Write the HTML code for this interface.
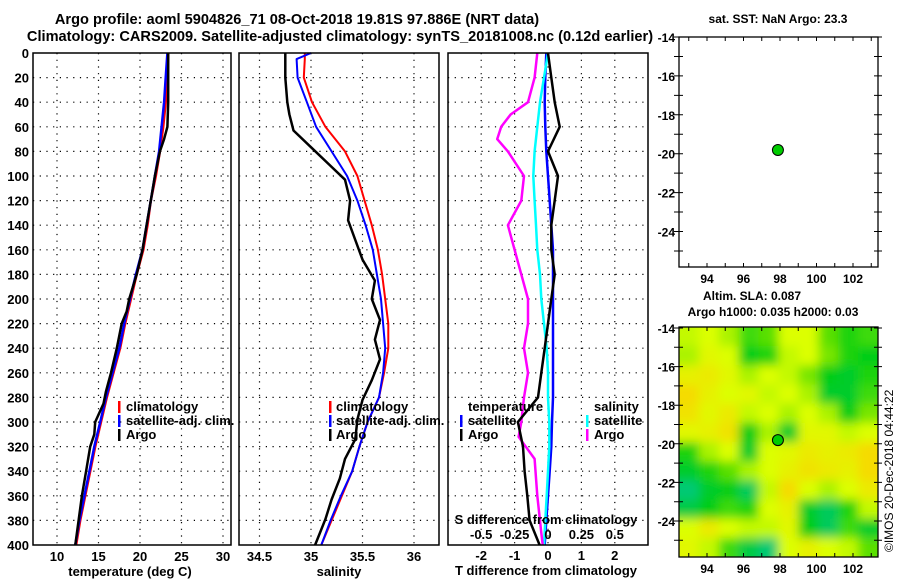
<!DOCTYPE html>
<html><head><meta charset="utf-8"><style>
body{margin:0;background:#fff}
svg{display:block;font-family:"Liberation Sans",sans-serif;font-weight:bold}
text{font-size:13px;fill:#000}
</style></head><body>
<svg id="s" width="900" height="580" viewBox="0 0 900 580">
<text x="297" y="24" text-anchor="middle" style="font-size:14.6px">Argo profile: aoml 5904826_71 08-Oct-2018 19.81S 97.886E (NRT data)</text>
<text x="340" y="41" text-anchor="middle" style="font-size:14.6px">Climatology: CARS2009. Satellite-adjusted climatology: synTS_20181008.nc (0.12d earlier)</text>
<text transform="translate(893,552) rotate(-90)" style="font-size:12px;font-weight:normal">©IMOS 20-Dec-2018 04:44:22</text>
<g id="g"></g>
</svg>
<script>
const depths=[0,20,40,60,80,100,120,140,160,180,200,220,240,260,280,300,320,340,360,380,400];
const tClim=[23.4,23.3,23.1,22.8,22.4,21.9,21.3,20.9,20.4,19.6,18.9,18.2,17.6,16.8,16.0,15.3,14.6,14.0,13.4,12.8,12.3];
const tSat=[23.3,23.1,22.9,22.6,22.3,21.8,21.3,20.8,20.3,19.5,18.8,18.1,17.5,16.7,15.9,15.2,14.5,13.9,13.3,12.7,12.2];
const tArgoDepths=[0,20,40,60,70,80,100,120,140,160,180,200,210,220,240,260,275,285,300,310,320,340,360,380,400];
const tArgo=[23.4,23.4,23.4,23.3,22.9,22.4,21.8,21.3,20.8,20.3,19.6,18.7,18.4,17.8,17.2,16.5,15.9,15.6,14.6,14.5,14.0,13.5,13.0,12.6,12.2];
const sDepthsClim=[0,5,20,40,60,80,100,120,140,160,180,200,220,240,260,280,300,320,340,360,380,400];
const sClim=[34.94,34.94,34.93,35.01,35.14,35.33,35.45,35.52,35.59,35.65,35.69,35.72,35.75,35.75,35.71,35.66,35.55,35.47,35.4,35.3,35.2,35.1];
const sSat=[35.0,34.86,34.87,34.96,35.05,35.2,35.35,35.45,35.53,35.6,35.64,35.68,35.7,35.72,35.7,35.66,35.55,35.47,35.4,35.29,35.19,35.1];
const sArgoDepths=[0,20,40,50,63,79,91,103,120,136,152,168,185,200,217,233,249,266,282,298,314,330,346,363,379,400];
const sArgo=[34.75,34.75,34.77,34.79,34.83,35.03,35.18,35.33,35.38,35.36,35.43,35.5,35.62,35.59,35.67,35.62,35.67,35.59,35.5,35.45,35.43,35.33,35.28,35.2,35.14,35.04];
const dDepths=[0,20,40,60,80,100,120,140,160,180,200,220,240,260,280,300,320,340,360,380,400];
const dtArgo=[0.0,0.1,0.2,0.35,0.0,0.3,0.2,0.1,0.1,0.2,0.1,0.0,-0.1,-0.2,-0.3,-0.9,-0.75,-0.7,-0.62,-0.55,-0.25];
const dtSat=[-0.05,-0.08,-0.1,-0.08,-0.05,0.0,0.05,0.1,0.15,0.15,0.15,0.15,0.15,0.15,0.15,0.12,0.1,0.05,0.0,-0.05,-0.1];
const dsSat=[0.0,-0.03,-0.06,-0.08,-0.1,-0.11,-0.1,-0.09,-0.08,-0.06,-0.05,-0.03,-0.01,0.0,0.0,0.01,0.01,0.0,-0.01,-0.02,-0.03];
const dsArgoDepths=[0,20,40,50,60,70,80,100,120,140,160,180,200,220,240,260,280,300,312,330,360,390,400];
const dsArgo=[-0.08,-0.1,-0.15,-0.28,-0.35,-0.38,-0.3,-0.18,-0.2,-0.3,-0.25,-0.2,-0.15,-0.15,-0.18,-0.15,-0.18,-0.2,-0.22,-0.1,-0.08,-0.05,-0.04];
const depthTicks=[0,20,40,60,80,100,120,140,160,180,200,220,240,260,280,300,320,340,360,380,400];
const tTicks=[10,15,20,25,30];
const sTicks=[34.5,35,35.5,36];
const dtTicks=[-2,-1,0,1,2];
const dsTicks=[-0.5,-0.25,0,0.25,0.5];
const dsTickLabels=["-0.5","-0.25","0","0.25","0.5"];
const lonTicks=[94,96,98,100,102];
const latTicks=[-14,-16,-18,-20,-22,-24];
const argoLon=97.886, argoLat=-19.81;
const sla=[
[0.2,0.3,0.1,-0.3,-0.2,0.3,0.3,-0.2,-0.4,-0.3],
[0.1,0.4,0.3,-0.5,-0.4,0.2,0.3,-0.1,-0.4,-0.5],
[0.5,0.6,0.4,0.1,0.3,0.2,-0.1,-0.5,-0.6,-0.4],
[0.8,0.5,0.3,0.4,0.2,0.3,0.1,-0.6,-0.6,-0.3],
[0.7,0.4,0.6,0.2,0.3,0.1,0.3,0.1,-0.5,-0.1],
[0.4,0.5,0.7,-0.5,0.1,-0.6,0.4,0.4,0.2,0.3],
[-0.4,0.1,0.3,-0.6,0.3,0.4,0.6,0.5,0.6,0.8],
[-0.6,-0.4,-0.2,0.1,0.3,0.5,0.7,0.6,0.5,0.8],
[-0.9,-0.6,-0.5,-0.8,0.2,0.8,0.3,0.1,0.3,0.6],
[-0.7,-0.5,-0.3,-0.4,0.3,0.5,-0.6,-0.8,-0.4,0.2],
[0.3,0.6,0.3,0.2,0.2,0.4,-0.5,-0.8,-0.3,-0.6],
[0.4,0.2,-0.3,-0.7,-0.9,0.3,0.5,0.3,0.2,-0.2]];

const NS="http://www.w3.org/2000/svg", G=document.getElementById('g');
function el(t,a,p){const e=document.createElementNS(NS,t);for(const k in a)e.setAttribute(k,a[k]);(p||G).appendChild(e);return e;}
const Y0=53,Y1=545;
const yD=d=>Y0+d*(Y1-Y0)/400;
const xT=t=>57+(t-10)*8.3;
const xS=s=>311+(s-35)*103;
const xDT=v=>548+v*33.4;
const xDS=v=>548+v*133.6;
const panels=[[33,231],[239,439],[448,648]];

function grid(x0,x1,xs){
  let d='';
  depthTicks.forEach(t=>{if(t>0&&t<400)d+=`M${x0},${yD(t)}H${x1}`;});
  xs.forEach(x=>{d+=`M${x},${Y0}V${Y1}`;});
  const g=el('path',{d,stroke:'#000','stroke-width':1.2,'stroke-dasharray':'1.2 5.5',fill:'none'});
  
  
}
function line(xs,ys,fx,color,w,name){
  let d='';xs.forEach((v,i)=>{d+=(i?'L':'M')+fx(v).toFixed(1)+','+yD(ys[i]).toFixed(1);});
  const p=el('path',{d,stroke:color,'stroke-width':w,fill:'none','stroke-linejoin':'round'});
  
  
}
function txt(x,y,s,anchor,size,name){
  const t=el('text',{x,y,'text-anchor':anchor||'start'});if(size)t.style.fontSize=size+'px';t.textContent=s;
  
  
  return t;
}
function mark(x,y,color){
  const r=el('rect',{x,y:y-10,width:2.5,height:12,fill:color});
  
  
}
grid(33,231,tTicks.map(xT));
grid(239,439,sTicks.map(xS));
grid(448,648,dtTicks.map(xDT));
depthTicks.forEach(t=>txt(29,yD(t)+5,String(t),'end',13,'depth-tick-label'));
line(tClim,depths,xT,'#f00',2.5,'temp-climatology-line');
line(tSat,depths,xT,'#00f',2.5,'temp-satellite-line');
line(tArgo,tArgoDepths,xT,'#000',2.5,'temp-argo-line');
line(sClim,sDepthsClim,xS,'#f00',2,'sal-climatology-line');
line(sSat,sDepthsClim,xS,'#00f',2,'sal-satellite-line');
line(sArgo,sArgoDepths,xS,'#000',2.5,'sal-argo-line');
line(dtSat,dDepths,xDT,'#00f',2.5,'tdiff-satellite-line');
line(dsSat,dDepths,xDS,'#0ff',2.5,'sdiff-satellite-line');
line(dsArgo,dsArgoDepths,xDS,'#f0f',2.5,'sdiff-argo-line');
line(dtArgo,dDepths,xDT,'#000',2.5,'tdiff-argo-line');
panels.forEach((p,i)=>{const r=el('rect',{x:p[0],y:Y0,width:p[1]-p[0],height:Y1-Y0,fill:'none',stroke:'#000','stroke-width':1.5});

});
tTicks.forEach(t=>txt(xT(t),561,String(t),'middle',13,'temp-tick-label'));
sTicks.forEach(t=>txt(xS(t),561,String(t),'middle',13,'sal-tick-label'));
dtTicks.forEach(t=>txt(xDT(t),560,String(t),'middle',13,'tdiff-tick-label'));
dsTicks.forEach((t,i)=>txt(xDS(t),539,dsTickLabels[i],'middle',13,'sdiff-tick-label'));
txt(130,576,'temperature (deg C)','middle',13,'temp-axis-title');
txt(339,576,'salinity','middle',13,'sal-axis-title');
txt(546,575,'T difference from climatology','middle',13,'tdiff-axis-title');
txt(546,524,'S difference from climatology','middle',13,'sdiff-axis-title');
[[118,126],[329,336]].forEach(([mx,tx])=>{
  mark(mx,411,'#f00');txt(tx,411,'climatology','start',13,'legend-climatology');
  mark(mx,425,'#00f');txt(tx,425,'satellite-adj. clim.','start',13,'legend-satellite');
  mark(mx,439,'#000');txt(tx,439,'Argo','start',13,'legend-argo');
});
txt(468,411,'temperature','start',13,'legend-temperature-header');
mark(460,425,'#00f');txt(468,425,'satellite','start',13,'legend-tdiff-satellite');
mark(460,439,'#000');txt(468,439,'Argo','start',13,'legend-tdiff-argo');
txt(594,411,'salinity','start',13,'legend-salinity-header');
mark(586,425,'#0ff');txt(594,425,'satellite','start',13,'legend-sdiff-satellite');
mark(586,439,'#f0f');txt(594,439,'Argo','start',13,'legend-sdiff-argo');

const MX0=679,MX1=878;
const xL=l=>707+(l-94)*18.25;
function mapAxes(y0,y1,yLat,name){
  let d='';
  for(let l=93;l<=103;l++){const x=xL(l);d+=`M${x},${y0}v4M${x},${y1}v-4`;}
  for(let la=-14;la>=-25;la--){const y=yLat(la);d+=`M${MX0},${y}h-5M${MX0},${y}h4M${MX1},${y}h-4M${MX1},${y}h4`;}
  const p=el('path',{d,stroke:'#000','stroke-width':1,fill:'none'});
  
  
  const r=el('rect',{x:MX0,y:y0,width:MX1-MX0,height:y1-y0,fill:'none',stroke:'#000','stroke-width':1.3});
  
  
  lonTicks.forEach(l=>txt(xL(l),y1+16,String(l),'middle',12,name+'-lon-label'));
  latTicks.forEach(la=>txt(MX0-4,yLat(la)+5,String(la),'end',12,name+'-lat-label'));
  const c=el('circle',{cx:xL(argoLon),cy:yLat(argoLat),r:5.5,fill:'#0c0',stroke:'#000','stroke-width':1});
  
  
}
const yLat1=la=>37+(-14-la)*19.45;
const yLat2=la=>328+(-14-la)*19.3;
function slaColor(v){
  const stops=[[-1,[0,200,140]],[-0.5,[0,205,20]],[-0.1,[120,230,0]],[0.3,[220,255,0]],[1,[255,205,0]]];
  v=Math.max(-1,Math.min(1,v));
  for(let i=0;i<stops.length-1;i++){const a=stops[i],b=stops[i+1];if(v<=b[0]){const f=(v-a[0])/(b[0]-a[0]);const c=a[1].map((q,k)=>Math.round(q+(b[1][k]-q)*f));return `rgb(${c})`;}}
  return 'rgb(255,205,0)';
}
const defs=el('defs',{});
const cp=el('clipPath',{id:'mc'},defs);el('rect',{x:MX0,y:327,width:MX1-MX0,height:230},cp);
const flt=el('filter',{id:'bl',x:'-10%',y:'-10%',width:'120%',height:'120%'},defs);el('feGaussianBlur',{stdDeviation:5},flt);
const hm=el('g',{'clip-path':'url(#mc)'});


const inner=el('g',{filter:'url(#bl)'},hm);
const rows=sla.length,cols=sla[0].length,cw=(MX1-MX0)/cols,ch=230/rows;
sla.forEach((row,r)=>row.forEach((v,c)=>{
  const x=MX0+c*cw-(c==0?20:0),y=327+r*ch-(r==0?20:0);
  const w=cw+1+(c==0?20:0)+(c==cols-1?20:0),h=ch+1+(r==0?20:0)+(r==rows-1?20:0);
  const cell=el('rect',{x,y,width:w,height:h,fill:slaColor(v)},inner);
  
  
}));
mapAxes(37,267,yLat1,'sst-map');
mapAxes(327,557,yLat2,'sla-map');
txt(778,23,'sat. SST: NaN Argo: 23.3','middle',12,'sst-map-title');
txt(752,300,'Altim. SLA: 0.087','middle',12,'sla-map-title');
txt(773,316,'Argo h1000: 0.035 h2000: 0.03','middle',12,'sla-map-subtitle');
</script>
</body></html>
